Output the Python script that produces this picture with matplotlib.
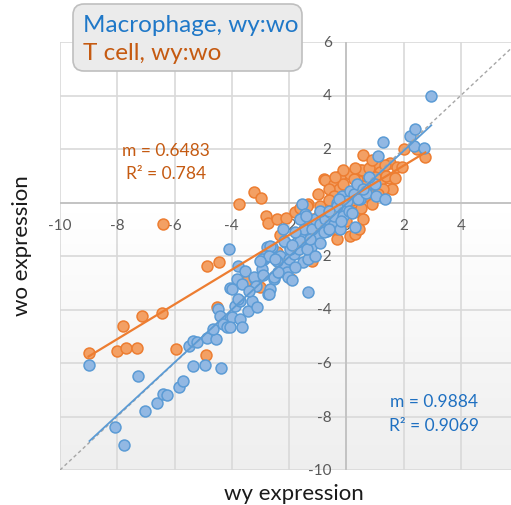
import numpy as np
import matplotlib
matplotlib.use("Agg")
import matplotlib.pyplot as plt
from matplotlib.patches import FancyBboxPatch
from matplotlib.transforms import IdentityTransform

plt.rcParams['font.family'] = ['Lato', 'DejaVu Sans']

# Macrophage, wy:wo  (wy expression, wo expression)
mac_x = [-8.97, -7.28, -8.08, -7.75, -7.03, -6.62, -6.39, -6.27, -5.86, -5.69, -5.36, -4.95, -4.37,
         -5.48, -5.34, -5.22, -4.87, -4.55, -4.64, -4.49, -4.41, -4.29, -4.17, -4.00, -4.06, -3.71, -3.65,
         -3.88, -4.06, -3.70, -3.42, -3.30, -3.12, -3.77, -4.11, -3.77, -3.53, -3.82, -3.65, -4.00, -3.18,
         -3.24, -3.15, -2.95, -2.89, -2.66, -2.60, -2.77, -2.31, -2.07, -2.54, -2.72, -2.65, -2.53, -2.36,
         -2.19, -2.01, -2.07, -1.84, -1.66, -2.13, -1.61, -1.50, -1.35, -1.34, -1.22, -1.10, -1.96, -1.72,
         -2.02, -2.66, -2.83, -2.19, -1.61, -1.37, -1.03, -2.95, -2.71, -2.71, -2.42, -1.80, -1.90,
         -1.55, -1.43, -1.32, -1.49, -1.20, -1.08, -0.91, -0.73, -0.67, -0.56, -0.44, -0.33, -0.21, -0.15,
         0.02, 0.14, 0.26, 0.37, 0.31, 0.49, -0.21, -1.61, -1.42, -0.79, -0.61, -0.44, -0.33, 0.42, 0.69,
         0.92, 1.04, 1.36, 1.01, -0.27, -0.10, 0.10, -0.90,
         -2.40, -2.90, -1.90, -3.40, -2.20, -1.10, -0.90, -0.20, 0.60, 0.80, -1.80, -2.50, -3.00, -1.25,
         -0.60, 0.20,
         1.11, 1.28, 2.24, 2.41, 2.36, 2.70, 2.97]
mac_y = [-6.06, -6.50, -8.40, -9.05, -7.78, -7.51, -7.16, -7.18, -6.91, -6.68, -6.10, -6.06, -6.20,
         -5.35, -5.17, -5.22, -5.08, -5.10, -4.73, -3.98, -4.23, -4.54, -4.67, -4.29, -4.67, -4.36, -4.67,
         -3.86, -3.21, -3.67, -4.04, -3.67, -3.92, -3.61, -1.74, -2.36, -2.55, -2.86, -3.05, -3.23, -2.86,
         -2.80, -3.12, -2.49, -2.11, -1.86, -1.68, -1.68, -1.99, -2.36, -2.86, -3.42, -3.24, -2.80, -2.61,
         -2.36, -2.11, -2.61, -1.93, -1.74, -1.49, -1.30, -2.24, -3.36, -2.11, -1.68, -1.24, -1.74, -1.49,
         -2.80, -1.61, -1.99, -1.43, -1.43, -1.74, -1.24, -2.11, -1.99, -3.43, -2.20, -2.40, -1.60,
         -0.06, -0.43, -0.74, -0.99, -0.99, -0.62, -0.80, -0.62, -1.05, -0.37, -0.80, 0.00, -0.24, 0.25,
         0.07, 0.44, 0.31, 0.69, -0.93, 0.13, -0.99, -0.62, -0.50, -1.12, -1.00, -0.50, -0.13, 0.12, 0.37,
         0.69, 0.25, 0.13, 0.69, 0.13, -0.50, -0.30, -0.30,
         -2.60, -2.70, -2.90, -3.30, -1.00, -2.00, -1.50, -0.70, 0.50, 0.95, -1.10, -2.10, -2.20, -1.35,
         -0.30, -0.40,
         1.75, 2.25, 2.50, 2.75, 2.10, 2.04, 3.97]

# T cell, wy:wo
tc_x = [-9.00, -8.02, -7.69, -7.30, -7.81, -7.14, -6.44, -5.96, -4.91, -4.85, -4.44, -6.39, -3.74, -3.24,
        -2.98, -2.81, -2.75, -2.42, -2.10, -1.92, -2.42, -3.50, -4.52, -3.00, -2.42, -1.78, -1.32, -0.97,
        -0.91, -0.67, -0.50, -0.33, -0.21, 0.14, 0.37, 0.14, 0.31, 0.26, -0.33, -0.91, -0.79, -0.73, 0.58,
        2.00, 2.47, 2.76, 1.52, 1.77, 1.94, 1.05, 0.49, -0.44, 0.26, 0.78, 0.84, 1.19, 1.60, 1.30, 0.66,
        0.90, -0.27, 0.02, -0.62, -0.44, 0.72, 1.19, -0.44, -0.91, 1.36, 0.55, -1.15, -1.37, -0.10, 0.40,
        1.00, 0.00, -0.20, 0.50, 1.50, -0.60,
        0.30, 0.80, -0.10, 0.60, 1.10, 0.20, -0.40, 1.40, 0.90, -0.30, 0.60, 0.45, -0.75, 1.70, -1.60,
        -2.30, -1.20]
tc_y = [-5.63, -5.54, -5.45, -5.45, -4.60, -4.23, -4.13, -5.48, -5.70, -2.36, -2.21, -0.80, -0.06, 0.38,
        0.16, -0.49, -0.78, -0.62, -0.59, -2.86, -1.99, -2.92, -3.92, -3.17, -1.86, -0.37, -0.06, 0.32,
        -0.43, 0.81, -1.00, -1.36, 1.00, 1.07, 0.88, -1.24, -1.18, -0.37, -0.99, -0.37, 0.88, 0.85, 1.78,
        2.00, 2.00, 1.69, 1.48, 1.31, 1.31, 1.44, 1.23, 0.69, 0.88, 0.81, 0.50, 0.81, 0.50, 0.50, 0.25,
        -0.06, 0.50, 0.44, 0.50, 0.25, 1.07, 1.13, -0.12, -0.12, 1.40, 1.20, -0.60, -0.12, 0.70, 0.30,
        0.95, -0.70, -0.50, -0.20, 0.90, 0.10,
        1.30, 1.30, 1.20, 0.60, 0.30, 0.10, 0.95, 1.00, 1.60, -0.70, -0.60, -1.00, -0.75, 0.90, -0.20,
        -1.20, -2.20]

# trendline fits shown on the chart
mac_m, mac_b, mac_r2 = 0.9884, -0.05, 0.9069
tc_m, tc_b, tc_r2 = 0.6483, 0.08, 0.784

ticks = [-10, -8, -6, -4, -2, 0, 2, 4, 6]
diag = [-10, 6]

W, H = 511, 506
fig = plt.figure(figsize=(W / 100, H / 100), dpi=100)
ax = fig.add_axes([60 / W, 35 / H, 458 / W, 428 / H])
for s in ax.spines.values():
    s.set_visible(False)
ax.set_xticks([])
ax.set_yticks([])

# background gradient (white top, light grey bottom)
grad = np.linspace(0, 1, 256).reshape(-1, 1)
grad = np.clip((grad - 0.4) / 0.6, 0, 1)
bg = np.ones((256, 1, 3)) * (1 - 0.065 * grad)[:, :, None]
ax.imshow(bg, extent=[-10, 6, -10, 6], origin='upper', aspect='auto', zorder=0)
ax.set_xlim(-10, 6)
ax.set_ylim(-10, 6)

# grid
for t in ticks:
    ax.axvline(t, color='#d9d9d9', lw=1.2, zorder=1)
    ax.axhline(t, color='#d9d9d9', lw=1.2, zorder=1)
ax.axvline(0, color='#bfbfbf', lw=1.2, zorder=1.5)
ax.axhline(0, color='#bfbfbf', lw=1.2, zorder=1.5)

# tick labels next to the crossing axes
for t in ticks[:-1]:
    ax.annotate(str(t), (t, 0), xytext=(0, -16.5), textcoords='offset points',
                ha='center', va='center', fontsize=11, color='#595959', zorder=2)
for t in ticks:
    ax.annotate(str(t), (0, t), xytext=(-10.5, 0), textcoords='offset points',
                ha='right', va='center', fontsize=11, color='#595959', zorder=2)

# points
ax.scatter(tc_x, tc_y, s=62, facecolor='#f3a064', edgecolor='#ed7d31', linewidth=1.1, zorder=3)
ax.scatter(mac_x, mac_y, s=62, facecolor='#92b8e3', edgecolor='#5b9bd5', linewidth=1.1, zorder=4)

# y = x reference
ax.plot(diag, diag, color='#a6a6a6', lw=1, ls=(0, (2.5, 2)), zorder=5)

# trendlines
xr = np.array([min(tc_x), max(tc_x)])
ax.plot(xr, tc_m * xr + tc_b, color='#ed7d31', lw=1.6, zorder=6)
xr = np.array([min(mac_x), max(mac_x)])
ax.plot(xr, mac_m * xr + mac_b, color='#5b9bd5', lw=1.3, zorder=6)

# trendline labels
fig.text(166 / W, 1 - 151 / H, 'm = %.4f' % tc_m, ha='center', va='center', fontsize=12.5, color='#c55a11')
fig.text(166 / W, 1 - 174 / H, 'R² = %s' % tc_r2, ha='center', va='center', fontsize=12.5, color='#c55a11')
fig.text(434 / W, 1 - 402 / H, 'm = %.4f' % mac_m, ha='center', va='center', fontsize=12.5, color='#1f70c1')
fig.text(434 / W, 1 - 426 / H, 'R² = %s' % mac_r2, ha='center', va='center', fontsize=12.5, color='#1f70c1')

# axis titles
fig.text(294 / W, 1 - 494 / H, 'wy expression', ha='center', va='center', fontsize=16, color='#1a1a1a')
fig.text(22 / W, 1 - 246 / H, 'wo expression', ha='center', va='center', fontsize=16,
         rotation=90, color='#1a1a1a')

# legend box
box = FancyBboxPatch((73, H - 72), 229, 67, boxstyle='round,pad=0,rounding_size=11',
                     transform=IdentityTransform(), facecolor='#ebebeb', edgecolor='#bfbfbf',
                     linewidth=1.2, zorder=10)
fig.patches.append(box)
fig.text(83 / W, 1 - 25 / H, 'Macrophage, wy:wo', ha='left', va='center', fontsize=17.5, color='#1f78c8', zorder=11)
fig.text(83 / W, 1 - 53 / H, 'T cell, wy:wo', ha='left', va='center', fontsize=17.5, color='#c55a11', zorder=11)

fig.savefig('out.png', dpi=100)
